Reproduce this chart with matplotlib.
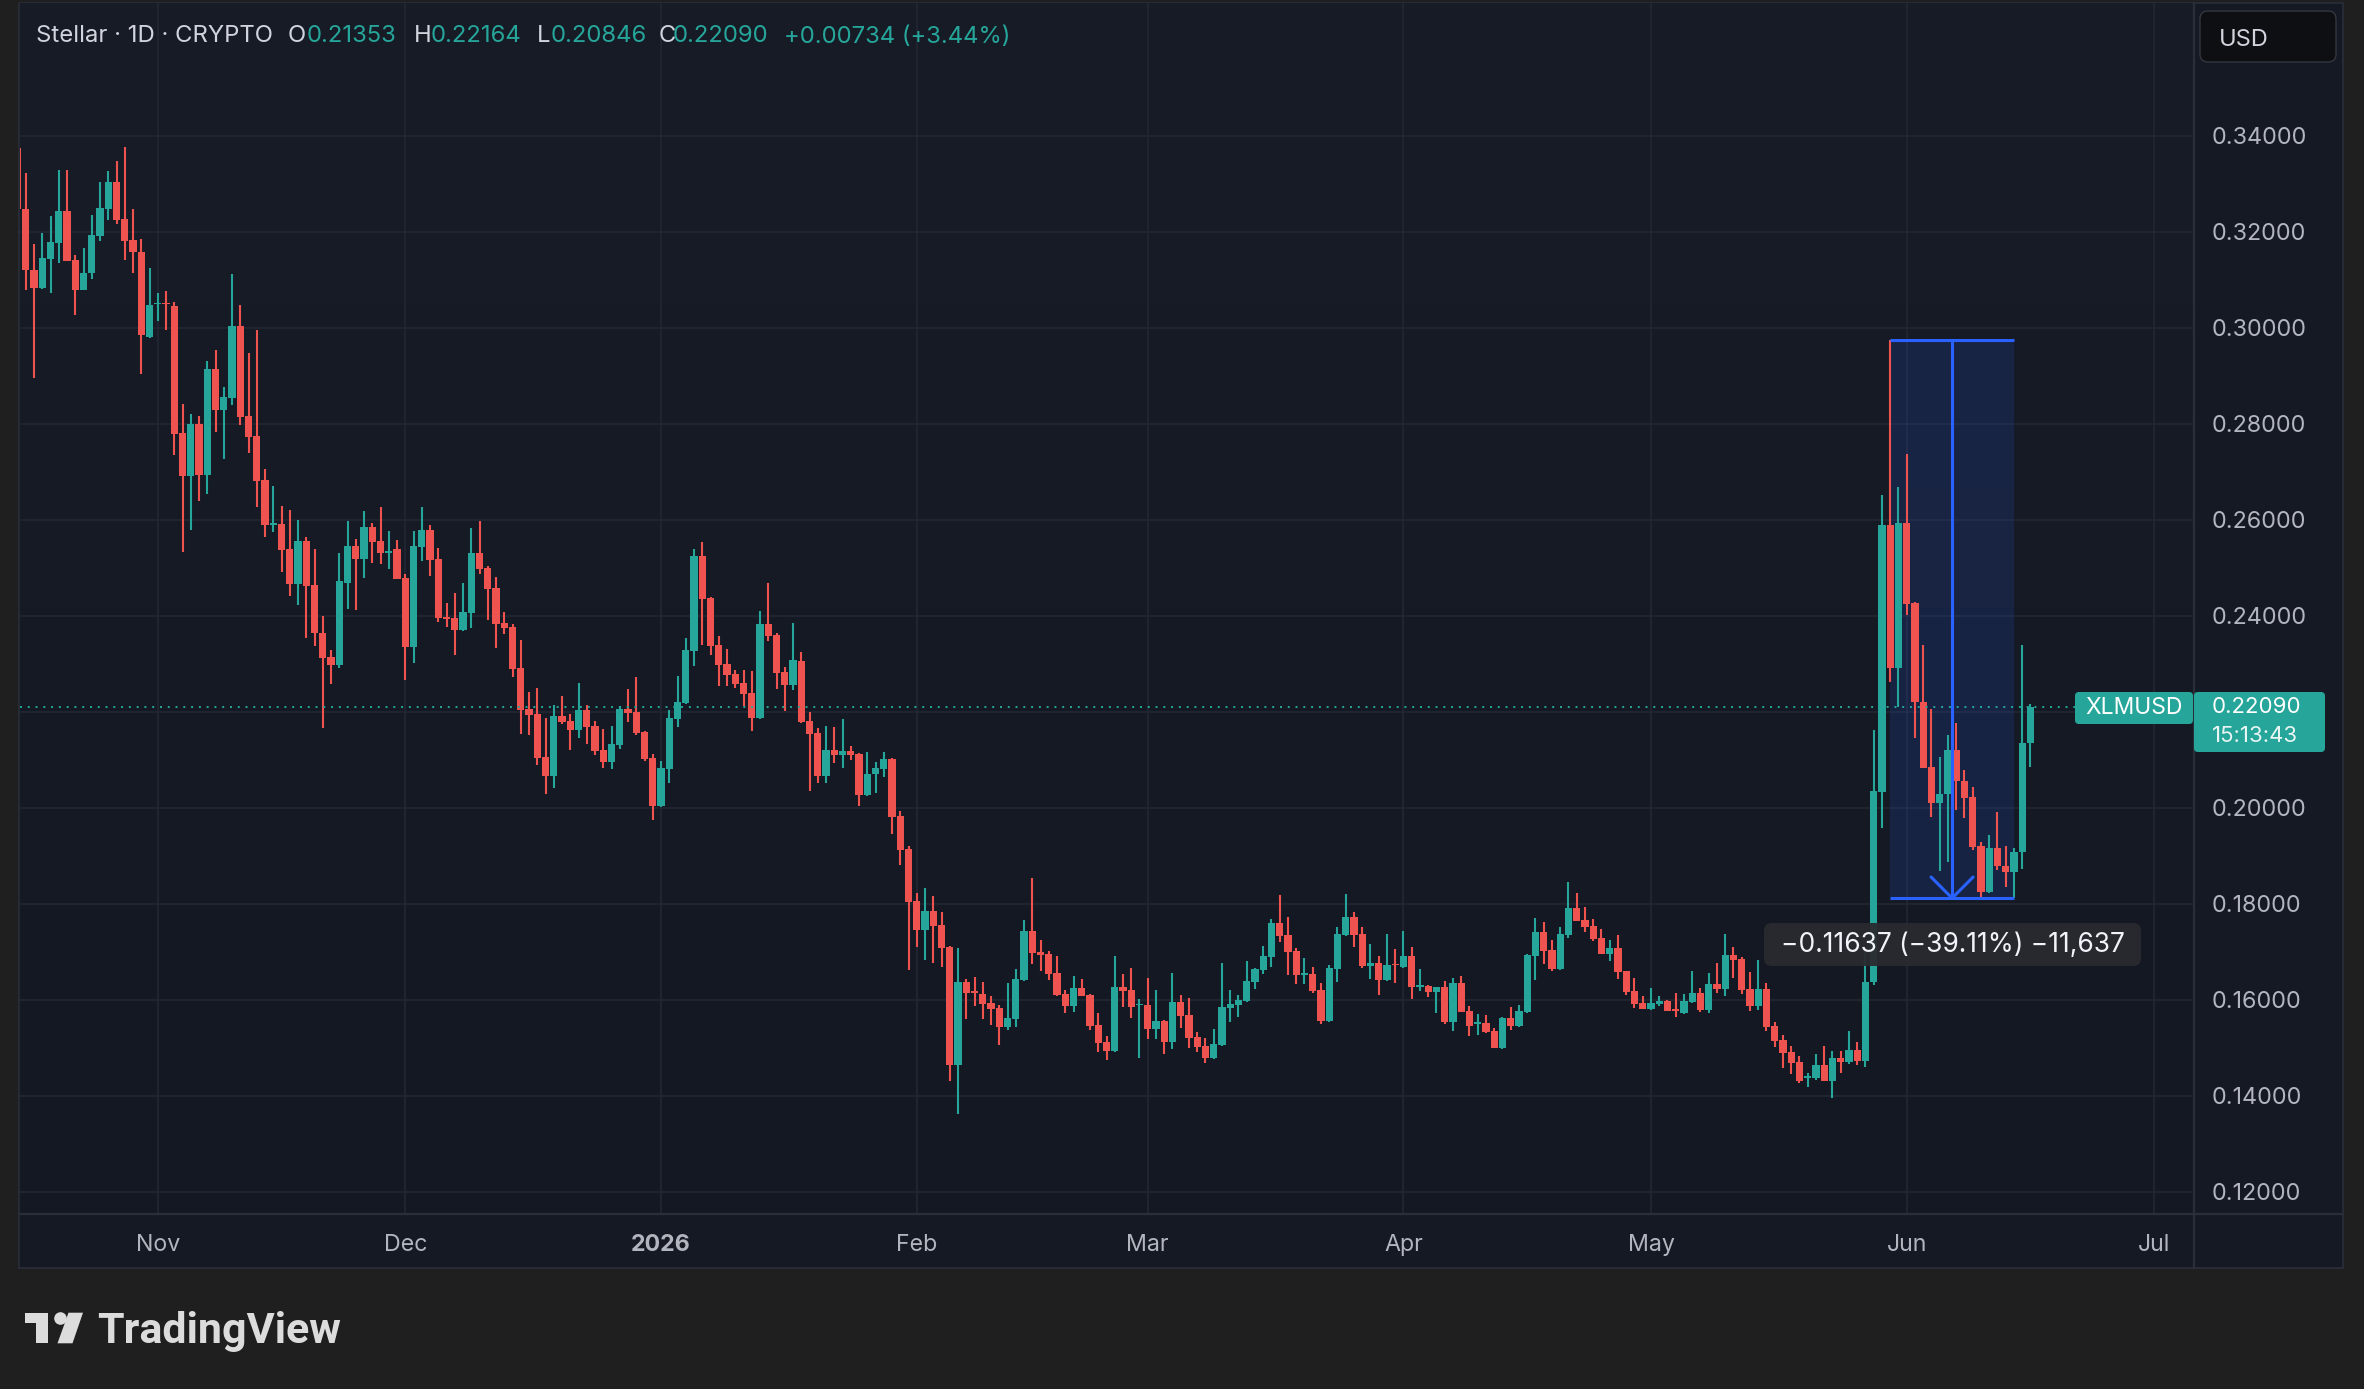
import numpy as np
import pandas as pd
import matplotlib
matplotlib.use("Agg")
import matplotlib.pyplot as plt
import matplotlib.dates as mdates
from matplotlib.patches import Rectangle, FancyBboxPatch, Polygon, Circle
from matplotlib.ticker import FuncFormatter

plt.rcParams['font.family'] = ['Inter', 'DejaVu Sans']

# daily candles, 2025-10-15 .. 2026-06-16
dates = pd.date_range("2025-10-15", "2026-06-16", freq="D")

opens = [
    # Oct
    0.3375, 0.3247, 0.3121, 0.3082, 0.3144, 0.3177, 0.3243, 0.3141, 0.3079, 0.3113, 0.3192, 0.3248, 0.3304, 0.3227, 0.3183, 0.3158, 0.2981,
    # Nov
    0.3049, 0.3051, 0.3045, 0.2781, 0.2692, 0.2799, 0.2693, 0.2914, 0.2829, 0.2854, 0.3003, 0.2816, 0.2774, 0.2683, 0.2589,
    0.2591, 0.2538, 0.2466, 0.2556, 0.2463, 0.2365, 0.2314, 0.2297, 0.2469, 0.2545, 0.2519, 0.2585, 0.2556, 0.2531, 0.2539,
    # Dec
    0.2479, 0.2335, 0.2543, 0.2579, 0.2518, 0.2397, 0.2395, 0.2370, 0.2406, 0.2531, 0.2499, 0.2458, 0.2385, 0.2376, 0.2291, 0.2206,
    0.2195, 0.2106, 0.2066, 0.2191, 0.2181, 0.2162, 0.2204, 0.2170, 0.2120, 0.2095, 0.2131, 0.2206, 0.2199, 0.2158, 0.2103,
    # Jan
    0.2004, 0.2081, 0.2185, 0.2218, 0.2326, 0.2524, 0.2437, 0.2339, 0.2299, 0.2278, 0.2260, 0.2239, 0.2187, 0.2383, 0.2360, 0.2283,
    0.2256, 0.2306, 0.2181, 0.2156, 0.2066, 0.2120, 0.2110, 0.2118, 0.2112, 0.2026, 0.2070, 0.2081, 0.2101, 0.1983, 0.1914,
    # Feb
    0.1806, 0.1745, 0.1785, 0.1756, 0.1710, 0.1464, 0.1637, 0.1618, 0.1612, 0.1593, 0.1583, 0.1543, 0.1560, 0.1641,
    0.1743, 0.1699, 0.1695, 0.1656, 0.1612, 0.1587, 0.1624, 0.1610, 0.1547, 0.1512, 0.1493, 0.1627, 0.1620, 0.1588,
    # Mar
    0.1589, 0.1539, 0.1556, 0.1512, 0.1595, 0.1568, 0.1522, 0.1504, 0.1479, 0.1506, 0.1583, 0.1589, 0.1597, 0.1637, 0.1662, 0.1689,
    0.1760, 0.1735, 0.1701, 0.1652, 0.1654, 0.1620, 0.1556, 0.1664, 0.1735, 0.1772, 0.1737, 0.1670, 0.1677, 0.1641, 0.1674,
    # Apr
    0.1668, 0.1691, 0.1627, 0.1629, 0.1616, 0.1627, 0.1554, 0.1635, 0.1577, 0.1549, 0.1552, 0.1535, 0.1499, 0.1562, 0.1545,
    0.1575, 0.1691, 0.1741, 0.1704, 0.1664, 0.1735, 0.1791, 0.1766, 0.1754, 0.1729, 0.1695, 0.1708, 0.1660, 0.1618, 0.1593,
    # May
    0.1581, 0.1591, 0.1597, 0.1579, 0.1572, 0.1595, 0.1614, 0.1579, 0.1633, 0.1622, 0.1693, 0.1685, 0.1622, 0.1587, 0.1622, 0.1545,
    0.1516, 0.1491, 0.1470, 0.1436, 0.1436, 0.1464, 0.1431, 0.1479, 0.1470, 0.1495, 0.1472, 0.1636, 0.2032, 0.2589, 0.2291,
    # Jun
    0.2594, 0.2427, 0.2221, 0.2085, 0.2010, 0.2028, 0.2121, 0.2056, 0.2022, 0.1920, 0.1825, 0.1916, 0.1878, 0.1867, 0.1907, 0.21353,
]
highs = [
    0.3390, 0.3322, 0.3175, 0.3198, 0.3233, 0.3329, 0.3329, 0.3152, 0.3167, 0.3235, 0.3304, 0.3327, 0.3348, 0.3377, 0.3247, 0.3185, 0.3125,
    0.3073, 0.3077, 0.3054, 0.2841, 0.2820, 0.2816, 0.2931, 0.2954, 0.2876, 0.3112, 0.3047, 0.2947, 0.2995, 0.2706, 0.2670,
    0.2628, 0.2620, 0.2599, 0.2565, 0.2538, 0.2400, 0.2329, 0.2531, 0.2597, 0.2560, 0.2618, 0.2593, 0.2626, 0.2577, 0.2558,
    0.2487, 0.2577, 0.2626, 0.2589, 0.2541, 0.2426, 0.2447, 0.2468, 0.2583, 0.2597, 0.2504, 0.2481, 0.2408, 0.2383, 0.2349, 0.2241,
    0.2249, 0.2187, 0.2214, 0.2233, 0.2195, 0.2260, 0.2214, 0.2181, 0.2164, 0.2170, 0.2212, 0.2247, 0.2272, 0.2160, 0.2112,
    0.2097, 0.2204, 0.2274, 0.2354, 0.2539, 0.2553, 0.2439, 0.2358, 0.2331, 0.2287, 0.2287, 0.2285, 0.2410, 0.2468, 0.2364, 0.2293,
    0.2385, 0.2324, 0.2199, 0.2166, 0.2170, 0.2168, 0.2185, 0.2129, 0.2114, 0.2116, 0.2095, 0.2116, 0.2103, 0.1993, 0.1920,
    0.1822, 0.1833, 0.1816, 0.1783, 0.1712, 0.1708, 0.1643, 0.1647, 0.1637, 0.1608, 0.1589, 0.1635, 0.1664, 0.1766,
    0.1854, 0.1724, 0.1701, 0.1691, 0.1620, 0.1649, 0.1643, 0.1612, 0.1572, 0.1524, 0.1691, 0.1654, 0.1666, 0.1601,
    0.1645, 0.1620, 0.1558, 0.1656, 0.1610, 0.1604, 0.1533, 0.1520, 0.1539, 0.1677, 0.1620, 0.1610, 0.1681, 0.1666, 0.1712, 0.1768,
    0.1818, 0.1772, 0.1708, 0.1687, 0.1668, 0.1635, 0.1672, 0.1752, 0.1820, 0.1783, 0.1752, 0.1716, 0.1691, 0.1737, 0.1706,
    0.1743, 0.1710, 0.1664, 0.1631, 0.1627, 0.1639, 0.1645, 0.1649, 0.1587, 0.1570, 0.1568, 0.1541, 0.1564, 0.1585, 0.1589,
    0.1695, 0.1770, 0.1762, 0.1724, 0.1752, 0.1845, 0.1822, 0.1793, 0.1768, 0.1747, 0.1724, 0.1735, 0.1660, 0.1645, 0.1608,
    0.1624, 0.1608, 0.1599, 0.1614, 0.1612, 0.1660, 0.1624, 0.1656, 0.1677, 0.1737, 0.1710, 0.1689, 0.1658, 0.1683, 0.1635, 0.1554,
    0.1527, 0.1504, 0.1483, 0.1447, 0.1487, 0.1504, 0.1493, 0.1493, 0.1535, 0.1512, 0.1699, 0.2161, 0.2651, 0.29753, 0.2668,
    0.2737, 0.2429, 0.2339, 0.2205, 0.2106, 0.2151, 0.2177, 0.2079, 0.2044, 0.1929, 0.1943, 0.1992, 0.1920, 0.1916, 0.2339, 0.22164,
]
lows = [
    0.3235, 0.3078, 0.2896, 0.3080, 0.3073, 0.3134, 0.3138, 0.3026, 0.3078, 0.3102, 0.3180, 0.3225, 0.3217, 0.3142, 0.3113, 0.2904, 0.2979,
    0.3015, 0.2996, 0.2735, 0.2533, 0.2579, 0.2640, 0.2654, 0.2783, 0.2727, 0.2840, 0.2798, 0.2738, 0.2627, 0.2565, 0.2574,
    0.2491, 0.2441, 0.2423, 0.2353, 0.2337, 0.2167, 0.2258, 0.2292, 0.2414, 0.2412, 0.2479, 0.2510, 0.2508, 0.2497, 0.2476,
    0.2266, 0.2302, 0.2514, 0.2483, 0.2387, 0.2376, 0.2318, 0.2368, 0.2374, 0.2487, 0.2391, 0.2333, 0.2362, 0.2272, 0.2154, 0.2152,
    0.2089, 0.2029, 0.2041, 0.2174, 0.2120, 0.2145, 0.2133, 0.2110, 0.2083, 0.2081, 0.2122, 0.2179, 0.2151, 0.2097, 0.1974,
    0.2002, 0.2051, 0.2168, 0.2216, 0.2295, 0.2339, 0.2318, 0.2254, 0.2254, 0.2249, 0.2212, 0.2160, 0.2185, 0.2347, 0.2247, 0.2201,
    0.2245, 0.2177, 0.2035, 0.2051, 0.2051, 0.2093, 0.2083, 0.2099, 0.2004, 0.2024, 0.2031, 0.2064, 0.1945, 0.1881, 0.1662,
    0.1710, 0.1683, 0.1677, 0.1668, 0.1431, 0.1362, 0.1560, 0.1587, 0.1560, 0.1547, 0.1506, 0.1537, 0.1543, 0.1639,
    0.1674, 0.1660, 0.1641, 0.1608, 0.1572, 0.1574, 0.1608, 0.1537, 0.1491, 0.1474, 0.1491, 0.1585, 0.1562, 0.1479,
    0.1518, 0.1518, 0.1487, 0.1497, 0.1541, 0.1499, 0.1491, 0.1468, 0.1477, 0.1504, 0.1554, 0.1564, 0.1595, 0.1622, 0.1654, 0.1668,
    0.1720, 0.1652, 0.1633, 0.1633, 0.1614, 0.1549, 0.1554, 0.1637, 0.1733, 0.1710, 0.1666, 0.1643, 0.1610, 0.1639, 0.1635,
    0.1666, 0.1602, 0.1618, 0.1606, 0.1572, 0.1549, 0.1535, 0.1574, 0.1524, 0.1527, 0.1531, 0.1499, 0.1497, 0.1537, 0.1543,
    0.1573, 0.1641, 0.1675, 0.1660, 0.1662, 0.1729, 0.1764, 0.1741, 0.1722, 0.1695, 0.1681, 0.1643, 0.1610, 0.1583, 0.1581,
    0.1579, 0.1587, 0.1577, 0.1564, 0.1570, 0.1593, 0.1574, 0.1572, 0.1614, 0.1608, 0.1645, 0.1612, 0.1577, 0.1579, 0.1535, 0.1502,
    0.1458, 0.1445, 0.1427, 0.1419, 0.1433, 0.1431, 0.1396, 0.1448, 0.1465, 0.1464, 0.1460, 0.1630, 0.1958, 0.2262, 0.2209,
    0.2402, 0.2146, 0.2083, 0.1980, 0.1869, 0.1887, 0.1996, 0.1978, 0.1912, 0.18116, 0.1823, 0.1871, 0.1834, 0.1812, 0.1873, 0.20846,
]
closes = [
    0.3247, 0.3121, 0.3082, 0.3145, 0.3179, 0.3243, 0.3139, 0.3079, 0.3114, 0.3193, 0.3250, 0.3304, 0.3225, 0.3181, 0.3157, 0.2984, 0.3047,
    0.3051, 0.3049, 0.2779, 0.2692, 0.2799, 0.2693, 0.2914, 0.2829, 0.2856, 0.3003, 0.2814, 0.2773, 0.2681, 0.2589, 0.2594,
    0.2537, 0.2466, 0.2556, 0.2462, 0.2364, 0.2312, 0.2297, 0.2472, 0.2545, 0.2519, 0.2585, 0.2554, 0.2531, 0.2535, 0.2476,
    0.2335, 0.2545, 0.2579, 0.2516, 0.2395, 0.2394, 0.2370, 0.2408, 0.2531, 0.2497, 0.2456, 0.2383, 0.2374, 0.2289, 0.2204, 0.2193,
    0.2104, 0.2066, 0.2191, 0.2179, 0.2162, 0.2204, 0.2168, 0.2118, 0.2095, 0.2133, 0.2206, 0.2197, 0.2156, 0.2101, 0.2004,
    0.2083, 0.2187, 0.2220, 0.2329, 0.2524, 0.2435, 0.2337, 0.2297, 0.2276, 0.2258, 0.2237, 0.2187, 0.2383, 0.2358, 0.2281, 0.2256,
    0.2308, 0.2179, 0.2154, 0.2066, 0.2120, 0.2110, 0.2118, 0.2110, 0.2026, 0.2070, 0.2083, 0.2101, 0.1981, 0.1912, 0.1804,
    0.1745, 0.1785, 0.1754, 0.1708, 0.1464, 0.1637, 0.1614, 0.1614, 0.1591, 0.1581, 0.1543, 0.1562, 0.1643, 0.1743,
    0.1697, 0.1693, 0.1654, 0.1610, 0.1587, 0.1624, 0.1608, 0.1545, 0.1510, 0.1493, 0.1627, 0.1618, 0.1585, 0.1591,
    0.1539, 0.1556, 0.1512, 0.1595, 0.1566, 0.1520, 0.1502, 0.1479, 0.1508, 0.1585, 0.1591, 0.1599, 0.1639, 0.1664, 0.1691, 0.1760,
    0.1733, 0.1699, 0.1652, 0.1656, 0.1618, 0.1556, 0.1666, 0.1737, 0.1772, 0.1735, 0.1670, 0.1677, 0.1641, 0.1672, 0.1672,
    0.1691, 0.1627, 0.1631, 0.1616, 0.1627, 0.1554, 0.1635, 0.1574, 0.1545, 0.1554, 0.1533, 0.1499, 0.1562, 0.1545, 0.1577,
    0.1693, 0.1741, 0.1702, 0.1664, 0.1737, 0.1791, 0.1764, 0.1752, 0.1727, 0.1695, 0.1708, 0.1658, 0.1616, 0.1591, 0.1581,
    0.1593, 0.1597, 0.1577, 0.1577, 0.1597, 0.1614, 0.1579, 0.1633, 0.1622, 0.1693, 0.1683, 0.1620, 0.1587, 0.1622, 0.1543, 0.1514,
    0.1489, 0.1468, 0.1431, 0.1440, 0.1464, 0.1431, 0.1479, 0.1470, 0.1495, 0.1472, 0.1637, 0.2035, 0.2589, 0.2291, 0.2593,
    0.2425, 0.2221, 0.2083, 0.2010, 0.2028, 0.2121, 0.2055, 0.2021, 0.1919, 0.1825, 0.1916, 0.1878, 0.1867, 0.1907, 0.2135, 0.22090,
]

month_ticks = ["2025-11-01", "2025-12-01", "2026-01-01", "2026-02-01", "2026-03-01",
               "2026-04-01", "2026-05-01", "2026-06-01", "2026-07-01"]
month_labels = ["Nov", "Dec", "2026", "Feb", "Mar", "Apr", "May", "Jun", "Jul"]
price_ticks = np.arange(0.12, 0.3401, 0.02)

# measure tool drawn on the chart
measure_start, measure_end = "2026-05-30", "2026-06-14"
measure_top, measure_bottom = 0.29753, 0.18116
measure_text = "\u22120.11637 (\u221239.11%) \u221211,637"

header_name = "Stellar \u00b7 1D \u00b7 CRYPTO"
ohlc_text = ["0.21353", "0.22164", "0.20846", "0.22090"]
change_text = "+0.00734 (+3.44%)"
last_price = closes[-1]

UP, DOWN = "#26a69a", "#ef5350"
TXT = "#b2b5be"
W, H = 2364, 1389

fig = plt.figure(figsize=(W / 100, H / 100), dpi=100, facecolor="#1f1f1f")

# pixel space overlays (y down)
bg = fig.add_axes([0, 0, 1, 1], zorder=0)
bg.set_xlim(0, W); bg.set_ylim(H, 0); bg.axis("off")
fg = fig.add_axes([0, 0, 1, 1], zorder=2)
fg.set_xlim(0, W); fg.set_ylim(H, 0); fg.axis("off")

bg.add_patch(Rectangle((19, 3), 2324, 1265, facecolor="#151924", edgecolor="#2a2e39", lw=1.2))
grad = np.linspace(0, 1, 256)[:, None]
top_c = np.array([24, 28, 39]) / 255
bot_c = np.array([20, 24, 34]) / 255
bg.imshow(top_c + grad[..., None] * (bot_c - top_c), extent=[20, 2193, 1213, 3],
          aspect="auto", origin="upper", zorder=1)
bg.plot([2193.5, 2193.5], [3, 1268], color="#2a2e39", lw=1.6, zorder=2)
bg.plot([19, 2343], [1213.5, 1213.5], color="#2a2e39", lw=1.6, zorder=2)

ax = fig.add_axes([20 / W, 1 - 1213 / H, 2173 / W, 1210 / H], zorder=1)
ax.set_facecolor("none")

x = mdates.date2num(dates)
o = np.array(opens); h = np.array(highs); l = np.array(lows); c = np.array(closes)
cols = np.where(c >= o, UP, DOWN)
ax.vlines(x, l, h, colors=cols, lw=1.5, zorder=3)
ax.bar(x, np.maximum(np.abs(c - o), 0.0003), bottom=np.minimum(o, c), width=0.9,
       color=cols, linewidth=0, zorder=4)

ax.axhline(last_price, color=UP, lw=1.4, ls=(0, (1, 3)), zorder=5)

# measure box
mx0, mx1 = mdates.date2num(pd.to_datetime([measure_start, measure_end]))
mid = (mx0 + mx1) / 2
ax.add_patch(Rectangle((mx0, measure_bottom), mx1 - mx0, measure_top - measure_bottom,
                       facecolor="#2962ff", alpha=0.14, lw=0, zorder=2))
blue = "#2962ff"
ax.hlines([measure_top, measure_bottom], mx0, mx1, color=blue, lw=2.2, zorder=6)
ax.vlines(mid, measure_bottom, measure_top, color=blue, lw=2.2, zorder=6)
ax.plot([mid - 2.55, mid, mid + 2.55], [measure_bottom + 0.0044, measure_bottom, measure_bottom + 0.0044],
        color=blue, lw=2.2, zorder=6, solid_capstyle="round")

d0 = mdates.date2num(pd.Timestamp("2025-11-01"))
ax.set_xlim(d0 - 16.7, d0 + 246.7)
ax.set_ylim(0.11556, 0.36765)

ax.set_xticks(mdates.date2num(pd.to_datetime(month_ticks)))
ax.set_xticklabels(month_labels)
ax.set_yticks(price_ticks)
# the 0.22 label sits under the last-price tag, so it is not shown
ax.yaxis.set_major_formatter(FuncFormatter(lambda v, p: "" if abs(v - 0.22) < 1e-6 else "%.5f" % v))
ax.yaxis.tick_right()
ax.tick_params(axis="x", length=0, pad=23, labelsize=16.7, labelcolor=TXT)
ax.tick_params(axis="y", length=0, pad=13.5, labelsize=16.8, labelcolor=TXT)
for t in ax.get_xticklabels():
    t.set_va("center")
ax.get_xticklabels()[2].set_fontweight("bold")
ax.grid(True, color="#232733", lw=1.2, zorder=0)
for s in ax.spines.values():
    s.set_visible(False)

# header legend
hy = 36.5
hfs = 17.2
fg.text(36, hy, header_name, color="#d1d4dc", fontsize=hfs, va="center")
for lab, lx, val, vx in zip("OHLC", [287.6, 414, 537, 659], ohlc_text, [306.6, 431, 551, 673]):
    fg.text(lx, hy, lab, color="#d1d4dc", fontsize=hfs, va="center")
    fg.text(vx, hy, val, color=UP, fontsize=hfs, va="center")
fg.text(784, hy, change_text, color=UP, fontsize=hfs, va="center")

# currency button
fg.add_patch(FancyBboxPatch((2204, 15), 128, 43, boxstyle="round,pad=4,rounding_size=8",
                            facecolor="#0e0f12", edgecolor="#34373f", lw=1))
fg.text(2219, 39.5, "USD", color="#d1d4dc", fontsize=17, va="center")

# last price labels
fg.add_patch(FancyBboxPatch((2076, 693), 116, 30, boxstyle="round,pad=1,rounding_size=4",
                            facecolor=UP, edgecolor="none"))
fg.text(2134, 708.5, "XLMUSD", color="white", fontsize=16.5, ha="center", va="center")
fg.add_patch(FancyBboxPatch((2195, 693), 129, 58, boxstyle="round,pad=1,rounding_size=4",
                            facecolor=UP, edgecolor="none"))
fg.text(2212, 707, "%.5f" % last_price, color="white", fontsize=16, va="center")
fg.text(2212, 736, "15:13:43", color="#e8f5f3", fontsize=16, va="center")

# measure label
fg.add_patch(FancyBboxPatch((1768, 927), 369, 35, boxstyle="round,pad=4,rounding_size=8",
                            facecolor="#2a2b2f", edgecolor="none", alpha=0.95))
fg.text(1953, 945, measure_text, color="#f0f3fa", fontsize=19, ha="center", va="center")

# TradingView logo
logo = "#dcdcdc"
bg.add_patch(Rectangle((24.5, 1312.7), 23.3, 10.6, color=logo, lw=0))
bg.add_patch(Rectangle((35.7, 1312.7), 12.1, 30.6, color=logo, lw=0))
bg.add_patch(Circle((60.5, 1318.5), 6.3, color=logo, lw=0))
bg.add_patch(Polygon([(57.5, 1343.3), (72.5, 1343.3), (83, 1312.7), (68.5, 1312.7)], color=logo, lw=0))
bg.text(97, 1343.3, "TradingView", color=logo, fontsize=31, fontweight="bold", va="baseline",
        family=["Roboto", "DejaVu Sans"])

fig.savefig("out.png", dpi=100, facecolor=fig.get_facecolor())
